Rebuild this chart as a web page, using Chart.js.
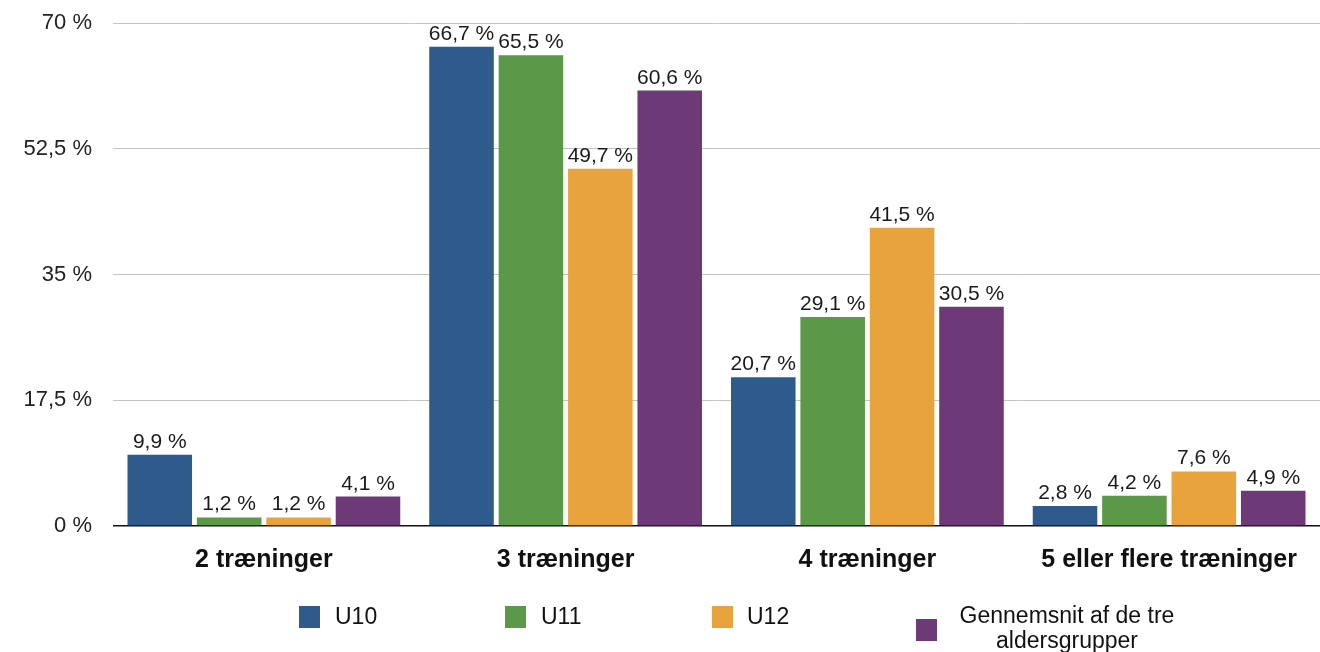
<!DOCTYPE html>
<html>
<head>
<meta charset="utf-8">
<script src="https://cdn.jsdelivr.net/npm/chart.js@4"></script>
<style>
  html,body{margin:0;padding:0;background:#fff;}
  #wrap{position:relative;width:1320px;height:652px;overflow:hidden;font-family:"Liberation Sans",Arial,sans-serif;}
  #wrap canvas{position:absolute;left:0;top:0;}
  .leg{position:absolute;font-size:23px;line-height:25px;color:#111;}
  .sq{position:absolute;width:21px;height:22px;}
</style>
</head>
<body>
<div id="wrap">
  <canvas id="c" width="1320" height="652"></canvas>
  <div class="sq" style="left:299px;top:606px;background:#2e5a8c"></div>
  <div class="leg" style="left:335px;top:604px">U10</div>
  <div class="sq" style="left:505px;top:606px;background:#5b9848"></div>
  <div class="leg" style="left:541px;top:604px">U11</div>
  <div class="sq" style="left:712px;top:606px;background:#e8a33d"></div>
  <div class="leg" style="left:747px;top:604px">U12</div>
  <div class="sq" style="left:916px;top:619px;background:#6d3977"></div>
  <div class="leg" style="left:937px;top:603px;width:260px;text-align:center">Gennemsnit af de tre<br>aldersgrupper</div>
</div>
<script>
// chart data
const categories = ['2 træninger', '3 træninger', '4 træninger', '5 eller flere træninger'];
const seriesNames = ['U10', 'U11', 'U12', 'Gennemsnit af de tre aldersgrupper'];
const u10 = [9.9, 66.7, 20.7, 2.8];
const u11 = [1.2, 65.5, 29.1, 4.2];
const u12 = [1.2, 49.7, 41.5, 7.6];
const avg = [4.1, 60.6, 30.5, 4.9];
const colors = ['#2e5a8c', '#5b9848', '#e8a33d', '#6d3977'];
const yTicks = [0, 17.5, 35, 52.5, 70];

const fmt = v => String(v).replace('.', ',') + ' %';

// value labels above each bar
const barLabels = {
  id: 'barLabels',
  afterDatasetsDraw(chart){
    const ctx = chart.ctx;
    ctx.save();
    ctx.font = '21px "Liberation Sans", Arial, sans-serif';
    ctx.fillStyle = '#1a1a1a';
    ctx.textAlign = 'center';
    ctx.textBaseline = 'alphabetic';
    chart.data.datasets.forEach((ds, i)=>{
      chart.getDatasetMeta(i).data.forEach((bar, j)=>{
        ctx.fillText(fmt(ds.data[j]), bar.x, bar.y - 7);
      });
    });
    ctx.restore();
  }
};

new Chart(document.getElementById('c').getContext('2d'), {
  type: 'bar',
  data: {
    labels: categories,
    datasets: [u10, u11, u12, avg].map((d, i)=>({
      label: seriesNames[i], data: d, backgroundColor: colors[i],
      categoryPercentage: 0.92, barPercentage: 0.93
    }))
  },
  options: {
    responsive: false,
    animation: false,
    layout: { padding: { top: 23, right: -12, bottom: 66, left: 0 } },
    plugins: { legend: { display: false }, tooltip: { enabled: false } },
    scales: {
      x: {
        grid: { display: false },
        border: { display: false },
        ticks: { color: '#111', padding: 11, font: { size: 25, weight: 'bold', family: '"Liberation Sans", Arial, sans-serif' } }
      },
      y: {
        min: 0, max: 70,
        afterBuildTicks: s => { s.ticks = yTicks.map(v=>({ value: v })); },
        afterFit: s => { s.width = 113; s.paddingTop = 0; s.paddingBottom = 0; },
        border: { display: false },
        grid: {
          drawTicks: false,
          color: c => c.tick && c.tick.value === 0 ? '#111' : '#c4c4c4',
          lineWidth: c => c.tick && c.tick.value === 0 ? 1.5 : 1
        },
        ticks: { color: '#222', padding: 21, callback: v => fmt(v), font: { size: 22, family: '"Liberation Sans", Arial, sans-serif' } }
      }
    }
  },
  plugins: [barLabels]
});
</script>
</body>
</html>
